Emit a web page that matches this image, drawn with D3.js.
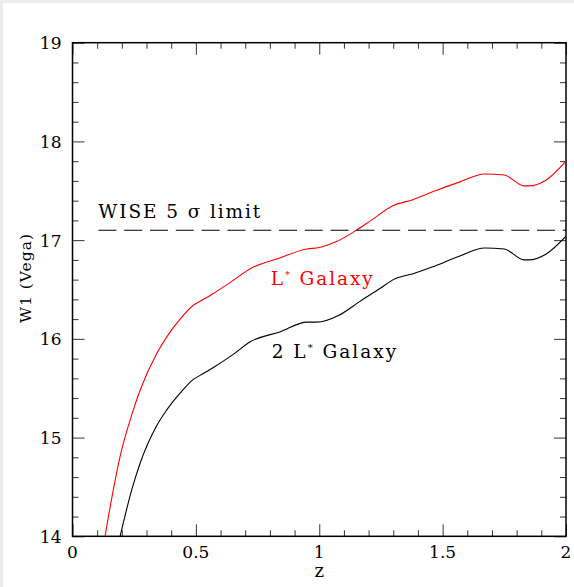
<!DOCTYPE html>
<html>
<head>
<meta charset="utf-8">
<script src="https://cdn.jsdelivr.net/npm/d3@7"></script>
<style>
  html, body { margin: 0; padding: 0; background: #ececec; }
  svg { display: block; }
  text { font-family: "DejaVu Serif", "Liberation Serif", serif; }
</style>
</head>
<body>
<svg id="chart" width="574" height="587"></svg>
<script>
// values
const redZ   = [0.132, 0.16, 0.193, 0.24, 0.274, 0.341, 0.382, 0.436, 0.49, 0.517, 0.571, 0.65, 0.72, 0.84, 0.95, 1.0, 1.07, 1.15, 1.21, 1.30, 1.38, 1.46, 1.57, 1.67, 1.75, 1.83, 1.85, 1.92, 2.0];
const redMag = [14.00, 14.40, 14.81, 15.23, 15.48, 15.85, 16.02, 16.20, 16.34, 16.38, 16.46, 16.59, 16.71, 16.82, 16.91, 16.925, 16.985, 17.10, 17.20, 17.35, 17.41, 17.49, 17.59, 17.67, 17.66, 17.55, 17.55, 17.61, 17.80];

const blackZ   = [0.193, 0.24, 0.274, 0.341, 0.382, 0.436, 0.49, 0.517, 0.571, 0.65, 0.72, 0.84, 0.95, 0.99, 1.08, 1.165, 1.246, 1.30, 1.38, 1.46, 1.57, 1.67, 1.75, 1.83, 1.85, 1.92, 2.0];
const blackMag = [14.00, 14.47, 14.74, 15.12, 15.28, 15.45, 15.59, 15.63, 15.71, 15.84, 15.97, 16.07, 16.17, 16.17, 16.24, 16.38, 16.51, 16.60, 16.66, 16.73, 16.84, 16.92, 16.91, 16.80, 16.80, 16.86, 17.04];

const limitMag = 17.1;
const limitStartZ = 0.105;

const xTicks = [0, 0.5, 1, 1.5, 2];
const xTickLabels = ["0", "0.5", "1", "1.5", "2"];
const yTicks = [14, 15, 16, 17, 18, 19];
const yTickLabels = ["14", "15", "16", "17", "18", "19"];

const svg = d3.select('#chart');
const W = 574, H = 587;
const margin = { top: 42.7, left: 72.5 };
const width = 493.5;
const height = 493.6;

// page border + white figure
svg.append('rect').attr('x', 0).attr('y', 0).attr('width', W).attr('height', H).attr('fill', '#ececec');
svg.append('rect').attr('x', 3).attr('y', 3).attr('width', W - 3).attr('height', H - 3).attr('fill', '#fff');

const x = d3.scaleLinear().domain([0, 2]).range([0, width]);
const y = d3.scaleLinear().domain([14, 19]).range([height, 0]);

const g = svg.append('g').attr('transform', `translate(${margin.left},${margin.top})`);

g.append('clipPath').attr('id', 'clip')
  .append('rect').attr('width', width).attr('height', height);

// ticks on all four sides, major long, minor short
function drawTicks(axisFn, scale, majors, minorStep, transform) {
  const dom = scale.domain();
  const minors = d3.range(dom[0], dom[1] + 1e-9, minorStep)
    .filter(v => !majors.some(m => Math.abs(m - v) < 1e-6));
  const a = g.append('g').attr('transform', transform);
  a.call(axisFn(scale).tickValues(majors).tickSize(-12).tickFormat(''));
  a.append('g').call(axisFn(scale).tickValues(minors).tickSize(-6).tickFormat(''));
  a.selectAll('.domain').remove();
  a.selectAll('line').attr('stroke', '#333').attr('stroke-width', 1);
}
drawTicks(d3.axisBottom, x, xTicks, 0.1, `translate(0,${height})`);
drawTicks(d3.axisTop, x, xTicks, 0.1, 'translate(0,0)');
drawTicks(d3.axisLeft, y, yTicks, 0.2, 'translate(0,0)');
drawTicks(d3.axisRight, y, yTicks, 0.2, `translate(${width},0)`);

// frame
g.append('rect').attr('width', width).attr('height', height)
  .attr('fill', 'none').attr('stroke', '#000').attr('stroke-width', 1.5);

// tick labels
g.selectAll('.xlab').data(xTicks).join('text')
  .attr('class', 'xlab')
  .attr('x', d => x(d)).attr('y', height + 22)
  .attr('text-anchor', 'middle').attr('font-size', 17)
  .attr('fill', '#000')
  .text((d, i) => xTickLabels[i]);

g.selectAll('.ylab').data(yTicks).join('text')
  .attr('class', 'ylab')
  .attr('x', -11).attr('y', d => y(d) + 6.5)
  .attr('text-anchor', 'end').attr('font-size', 17)
  .attr('fill', '#000')
  .text((d, i) => yTickLabels[i]);

// axis titles
g.append('text')
  .attr('x', width / 2).attr('y', height + 41)
  .attr('text-anchor', 'middle').attr('font-size', 18)
  .text('z');

svg.append('text')
  .attr('transform', 'translate(31,278) rotate(-90)')
  .attr('text-anchor', 'middle').attr('font-size', 15.5)
  .attr('letter-spacing', 1)
  .text('W1 (Vega)');

// curves
const line = d3.line()
  .x(d => x(d[0]))
  .y(d => y(d[1]))
  .curve(d3.curveMonotoneX);

const plot = g.append('g').attr('clip-path', 'url(#clip)');

plot.append('path')
  .datum(redZ.map((z, i) => [z, redMag[i]]))
  .attr('fill', 'none').attr('stroke', '#ff0000').attr('stroke-width', 1.1)
  .attr('d', line);

plot.append('path')
  .datum(blackZ.map((z, i) => [z, blackMag[i]]))
  .attr('fill', 'none').attr('stroke', '#000').attr('stroke-width', 1.1)
  .attr('d', line);

// WISE limit
plot.append('line')
  .attr('x1', x(limitStartZ)).attr('x2', x(2))
  .attr('y1', y(limitMag)).attr('y2', y(limitMag))
  .attr('stroke', '#000').attr('stroke-width', 1.2)
  .attr('stroke-dasharray', '18,7.8');

// annotations
g.append('text')
  .attr('x', 98.3 - margin.left).attr('y', 218.3 - margin.top)
  .attr('font-size', 18.5).attr('letter-spacing', 1.9)
  .text('WISE 5 σ limit');

const t1 = g.append('text')
  .attr('x', 270.7 - margin.left).attr('y', 285 - margin.top)
  .attr('font-size', 18.5).attr('letter-spacing', 1.9)
  .attr('fill', '#ff0000');
t1.append('tspan').text('L');
t1.append('tspan').attr('font-size', 10).attr('dy', -7).text('*');
t1.append('tspan').attr('dy', 7).text(' Galaxy');

const t2 = g.append('text')
  .attr('x', 271.7 - margin.left).attr('y', 357.7 - margin.top)
  .attr('font-size', 18.5).attr('letter-spacing', 2)
  .attr('fill', '#000');
t2.append('tspan').text('2 L');
t2.append('tspan').attr('font-size', 10).attr('dy', -7).text('*');
t2.append('tspan').attr('dy', 7).text(' Galaxy');
</script>
</body>
</html>
